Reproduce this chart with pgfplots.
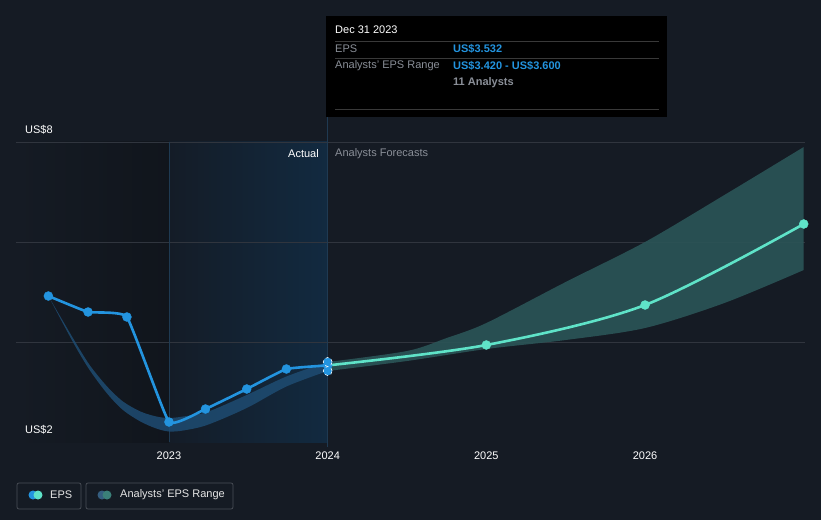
\documentclass[border=0pt]{standalone}
\usepackage{pgfplots}
\pgfplotsset{compat=1.18}
\usepgfplotslibrary{fillbetween}
\tikzset{fill between/on layer=main}
\usepackage{fontspec}
\setmainfont{Liberation Sans}
\definecolor{bg}{HTML}{151B24}
\definecolor{gridc}{HTML}{30353E}
\definecolor{axisc}{HTML}{4A4F57}
\definecolor{epsblue}{HTML}{2394DF}
\definecolor{mint}{HTML}{5FE3C8}
\definecolor{pastband}{HTML}{1E4C72}
\definecolor{foreband}{HTML}{2B5557}
\definecolor{greytxt}{HTML}{8A8F98}
\definecolor{vline}{HTML}{1F3A52}
\newcommand{\fs}{\fontsize{11}{13}\selectfont}
\begin{document}
\begin{tikzpicture}
% background
\fill[bg] (0pt,0pt) rectangle (821pt,520pt);
\fill[left color=bg, right color=black!22!bg] (16pt,78pt) rectangle (169pt,378pt);
\fill[left color={rgb,255:red,20;green,28;blue,39}, right color={rgb,255:red,18;green,42;blue,64}] (169pt,78pt) rectangle (327pt,378pt);
% grid lines
\foreach \yy in {178,278,378} {\draw[gridc, line width=0.8pt] (16pt,\yy pt) -- (805pt,\yy pt);}
\draw[vline, line width=0.8pt] (169pt,78pt) -- (169pt,378pt);
\draw[vline, line width=0.8pt] (327pt,73pt) -- (327pt,403pt);
\begin{axis}[
  at={(16pt,78pt)}, anchor=south west,
  scale only axis, width=789pt, height=300pt,
  xmin=2022.036, xmax=2027.008, ymin=2, ymax=8,
  clip=false,
  axis x line*=bottom, axis y line=none,
  x axis line style={color=axisc, line width=0.8pt, -},
  ytick=\empty,
  xtick={2023,2024,2025,2026}, xticklabels={2023,2024,2025,2026},
  xtick style={color=axisc, line width=0.8pt},
  major tick length=5pt, tick align=outside,
  xticklabel style={font=\fs, text=white, yshift=-1pt},
]
% past band
\addplot[name path=pu, draw=none, smooth, tension=0.5] coordinates {
(2022.24,4.92)(2022.40,4.05)(2022.50,3.54)(2022.61,3.11)(2022.71,2.81)(2022.82,2.61)(2022.92,2.51)(2023.00,2.48)(2023.09,2.51)(2023.24,2.60)(2023.49,2.94)(2023.74,3.31)(2024.00,3.60)};
\addplot[name path=pl, draw=none, smooth, tension=0.5] coordinates {
(2022.24,4.92)(2022.40,3.97)(2022.50,3.44)(2022.61,2.97)(2022.71,2.64)(2022.82,2.41)(2022.92,2.27)(2023.00,2.21)(2023.09,2.23)(2023.24,2.34)(2023.49,2.68)(2023.74,3.11)(2024.00,3.42)};
\addplot[fill=pastband, fill opacity=0.85, draw=none] fill between[of=pu and pl];
% forecast band
\addplot[name path=fu, draw=none, smooth, tension=0.5] coordinates {
(2024.0,3.60)(2024.5,3.82)(2024.75,4.08)(2025.0,4.38)(2025.5,5.20)(2026.0,6.00)(2026.5,6.94)(2027.0,7.90)};
\addplot[name path=fl, draw=none, smooth, tension=0.5] coordinates {
(2024.0,3.42)(2024.5,3.62)(2025.0,3.86)(2025.5,4.04)(2026.0,4.28)(2026.5,4.78)(2027.0,5.44)};
\addplot[fill=foreband, fill opacity=0.9, draw=none] fill between[of=fu and fl];
% EPS actual
\addplot[epsblue, line width=2.6pt, smooth, tension=0.2, mark=*, mark size=4.5pt, mark options={fill=epsblue, draw=epsblue, solid, line width=0.4pt}] coordinates {
(2022.24,4.92)(2022.49,4.60)(2022.735,4.50)(2023.0,2.40)(2023.23,2.66)(2023.49,3.06)(2023.74,3.46)(2024.0,3.532)};
% EPS forecast
\addplot[mint, line width=2.6pt, smooth, tension=0.5] coordinates {
(2024.0,3.532)(2025.0,3.94)(2026.0,4.74)(2027.0,6.36)};
\addplot[only marks, mark=*, mark size=4.5pt, mark options={fill=mint, draw=mint, solid, line width=0.4pt}] coordinates {
(2025.0,3.94)(2026.0,4.74)(2027.0,6.36)};
% range markers at 2024
\addplot[only marks, mark=*, mark size=4.5pt, mark options={fill=epsblue, draw=white, line width=0.6pt, dashed}] coordinates {(2024.0,3.60)(2024.0,3.42)};
\end{axis}
% labels
\node[anchor=west, text=white, font=\fs, inner sep=0pt] at (25pt,390pt) {US\$8};
\node[anchor=west, text=white, font=\fs, inner sep=0pt] at (25pt,90pt) {US\$2};
\node[anchor=east, text=white, font=\fs, inner sep=0pt] at (319pt,366pt) {Actual};
\node[anchor=west, text=greytxt, font=\fs, inner sep=0pt] at (335pt,366pt) {Analysts Forecasts};
% tooltip
\fill[black] (326pt,403pt) rectangle (667pt,504pt);
\draw[gray!45!black, line width=0.7pt] (335pt,479pt) -- (659pt,479pt);
\draw[gray!45!black, line width=0.7pt] (335pt,462pt) -- (659pt,462pt);
\draw[gray!45!black, line width=0.7pt] (335pt,411pt) -- (659pt,411pt);
\node[anchor=west, text=white, font=\fs, inner sep=0pt] at (335pt,490pt) {Dec 31 2023};
\node[anchor=west, text=greytxt, font=\fs, inner sep=0pt] at (335pt,471pt) {EPS};
\node[anchor=west, text=epsblue, font=\fs\bfseries, inner sep=0pt] at (453pt,471pt) {US\$3.532};
\node[anchor=west, text=greytxt, font=\fs, inner sep=0pt] at (335pt,454pt) {Analysts' EPS Range};
\node[anchor=west, text=epsblue, font=\fs\bfseries, inner sep=0pt] at (453pt,454pt) {US\$3.420 - US\$3.600};
\node[anchor=west, text=greytxt, font=\fs\bfseries, inner sep=0pt] at (453pt,437pt) {11 Analysts};
% legend
\draw[axisc, rounded corners=2pt, line width=0.7pt] (17pt,11pt) rectangle (81pt,37pt);
\fill[epsblue] (33pt,25pt) circle (4.5pt);
\fill[mint] (38pt,25pt) circle (4.5pt);
\node[anchor=west, text=white!80!gray, font=\fs, inner sep=0pt] at (50pt,25pt) {EPS};
\draw[axisc, rounded corners=2pt, line width=0.7pt] (86pt,11pt) rectangle (233pt,37pt);
\fill[pastband!90!white] (102pt,25pt) circle (4.5pt);
\fill[foreband!70!mint] (107pt,25pt) circle (4.5pt);
\node[anchor=west, text=white!80!gray, font=\fs, inner sep=0pt] at (120pt,25pt) {Analysts' EPS Range};
\end{tikzpicture}
\end{document}
